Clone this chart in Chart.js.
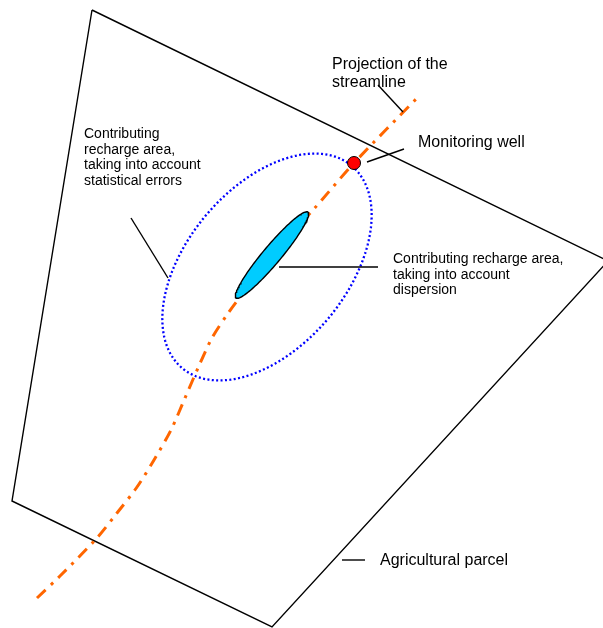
<!DOCTYPE html>
<html>
<head>
<meta charset="utf-8">
<script src="https://cdn.jsdelivr.net/npm/chart.js@4/dist/chart.umd.min.js"></script>
<style>
  html, body { margin: 0; padding: 0; background: #fff; }
  #wrap { width: 603px; height: 628px; }
</style>
</head>
<body>
<div id="wrap"><canvas id="diagram" width="603" height="628"></canvas></div>
<script>
// outline of the agricultural parcel (closed)
const parcelX = [92, 608, 272, 12, 92];
const parcelY = [10, 261, 627, 501, 10];

// projection of the streamline
const streamX = [37, 60, 96, 117, 137, 154, 171, 185, 198, 212, 229, 250, 272, 313, 354, 420];
const streamY = [598, 576, 539, 513, 487, 460, 430, 398, 368, 338, 312, 284, 254, 210, 163, 95];

// monitoring well
const wellX = [354];
const wellY = [163];

// ellipses: centre x, centre y, half length, half width, angle (deg)
const errorArea = [267, 267, 132, 80, 50];
const dispersionArea = [272, 255, 56, 9, 50];

// leader lines [x1, y1, x2, y2]
const leaderStream = [378, 85, 403, 112];
const leaderWell = [367, 162, 404, 149];
const leaderErrors = [131, 218, 168, 278];
const leaderDispersion = [279, 267, 378, 267];
const leaderParcel = [342, 560, 365, 560];

// text labels
const labelText = [
  ['Projection of the', 'streamline'],
  ['Monitoring well'],
  ['Contributing', 'recharge area,', 'taking into account', 'statistical errors'],
  ['Contributing recharge area,', 'taking into account', 'dispersion'],
  ['Agricultural parcel']
];
const labelX = [332, 418, 84, 393, 380];
const labelY = [69, 147, 138, 263, 565];
const labelSize = [16, 16, 14, 14, 16];
const labelStep = [18, 18, 15.6, 15.6, 18];

function toPoints(xs, ys) {
  return xs.map((x, i) => ({ x: x, y: ys[i] }));
}

function ellipse(e) {
  const [cx, cy, a, b, deg] = e;
  const th = deg * Math.PI / 180;
  const pts = [];
  for (let i = 0; i <= 160; i++) {
    const t = i / 160 * 2 * Math.PI;
    pts.push({
      x: cx + a * Math.cos(t) * Math.cos(th) + b * Math.sin(t) * Math.sin(th),
      y: cy - a * Math.cos(t) * Math.sin(th) + b * Math.sin(t) * Math.cos(th)
    });
  }
  return pts;
}

function leader(l) {
  return {
    data: [{ x: l[0], y: l[1] }, { x: l[2], y: l[3] }],
    showLine: true, borderColor: '#000', borderWidth: 1.4, pointRadius: 0, order: 1
  };
}

// draws the labels through the chart scales
const labelPlugin = {
  id: 'labels',
  afterDatasetsDraw(chart) {
    const { ctx, scales: { x, y } } = chart;
    ctx.save();
    ctx.fillStyle = '#000';
    ctx.textBaseline = 'alphabetic';
    labelText.forEach((lines, i) => {
      ctx.font = labelSize[i] + 'px "Liberation Sans", Arial, sans-serif';
      lines.forEach((txt, j) => {
        ctx.fillText(txt, x.getPixelForValue(labelX[i]), y.getPixelForValue(labelY[i] + j * labelStep[i]));
      });
    });
    ctx.restore();
  }
};

new Chart(document.getElementById('diagram'), {
  type: 'scatter',
  data: {
    datasets: [
      { // well
        data: toPoints(wellX, wellY),
        pointRadius: 6.5, pointBackgroundColor: '#ff0000',
        pointBorderColor: '#000', pointBorderWidth: 1, order: 0
      },
      leader(leaderStream),
      leader(leaderWell),
      leader(leaderErrors),
      leader(leaderDispersion),
      leader(leaderParcel),
      { // dispersion area
        data: ellipse(dispersionArea),
        showLine: true, borderColor: '#000', borderWidth: 1.4,
        backgroundColor: '#00ccff', fill: 'shape', pointRadius: 0, order: 2
      },
      { // streamline
        data: toPoints(streamX, streamY),
        showLine: true, borderColor: '#ff6600', borderWidth: 3,
        borderDash: [12, 7, 3, 7], tension: 0.3, pointRadius: 0, order: 3
      },
      { // statistical errors area
        data: ellipse(errorArea),
        showLine: true, borderColor: '#0000ff', borderWidth: 2.3,
        borderDash: [2, 2.4], pointRadius: 0, order: 4
      },
      { // parcel
        data: toPoints(parcelX, parcelY),
        showLine: true, borderColor: '#000', borderWidth: 1.4,
        pointRadius: 0, order: 5
      }
    ]
  },
  options: {
    responsive: false,
    animation: false,
    devicePixelRatio: 1,
    layout: { padding: 0, autoPadding: false },
    plugins: { legend: { display: false }, tooltip: { enabled: false } },
    scales: {
      x: { type: 'linear', min: 0, max: 603, display: false },
      y: { type: 'linear', min: 0, max: 628, reverse: true, display: false }
    }
  },
  plugins: [labelPlugin]
});
</script>
</body>
</html>
